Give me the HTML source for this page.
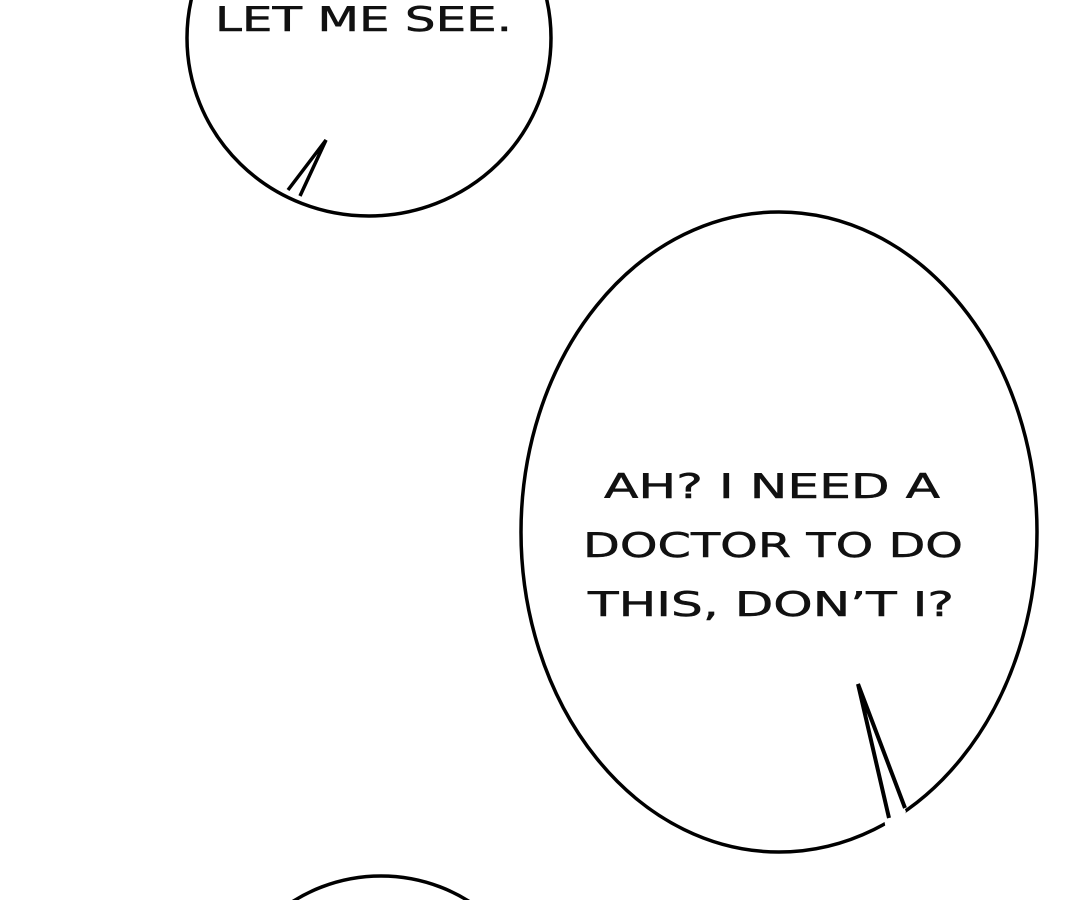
<!DOCTYPE html>
<html><head><style>
html,body{margin:0;padding:0;background:#fff;overflow:hidden;width:1080px;height:900px}
svg{display:block}
text{font-family:"DejaVu Sans","Liberation Sans",sans-serif;font-size:34px;fill:#111;stroke:#111;stroke-width:0.5}
</style></head><body>
<svg width="1080" height="900" viewBox="0 0 1080 900" style="overflow:hidden">
<rect width="1080" height="900" fill="#fff"/>
<g fill="#fff" stroke="#000" stroke-width="3.5">
<ellipse cx="369" cy="38" rx="182" ry="178"/>
<ellipse cx="779" cy="532" rx="258" ry="320"/>
<ellipse cx="381" cy="1030" rx="160" ry="154"/>
</g>
<polygon points="290,192 326,140 305,198" fill="#fff"/>
<polyline points="288,190 326,140 300,196" fill="none" stroke="#000" stroke-width="3.5"/>
<polygon points="888,840 858,684 906,812" fill="#fff"/>
<polyline points="889,818 858,684 905,808" fill="none" stroke="#000" stroke-width="4"/>
<text x="215" y="31" textLength="297" lengthAdjust="spacingAndGlyphs">LET ME SEE.</text>
<text x="604" y="498" textLength="336" lengthAdjust="spacingAndGlyphs">AH? I NEED A</text>
<text x="583" y="557" textLength="380" lengthAdjust="spacingAndGlyphs">DOCTOR TO DO</text>
<text x="588" y="616" textLength="366" lengthAdjust="spacingAndGlyphs">THIS, DON’T I?</text>
</svg>
</body></html>
